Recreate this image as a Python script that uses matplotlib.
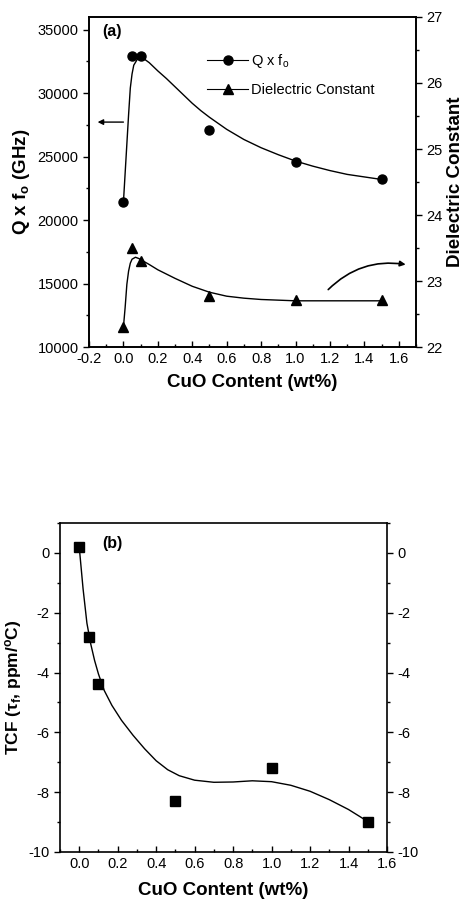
import matplotlib
matplotlib.use('Agg')
import matplotlib.pyplot as plt
from matplotlib.ticker import MultipleLocator, FormatStrFormatter
from matplotlib.lines import Line2D

plt.rcParams['font.family'] = ['Liberation Sans', 'DejaVu Sans']
plt.rcParams['mathtext.default'] = 'regular'
plt.rcParams['axes.unicode_minus'] = False

#%% data
cuo = [0.0, 0.05, 0.1, 0.5, 1.0, 1.5]          # CuO content (wt%)
qf = [21400, 32900, 32900, 27100, 24600, 23200]  # Q x fo (GHz)
eps_r = [22.3, 23.5, 23.3, 22.77, 22.71, 22.71]  # dielectric constant
tcf = [0.2, -2.8, -4.4, -8.3, -7.2, -9.0]        # TCF (ppm/C)

# guide curves drawn through the points
qf_fit_x = [0, 0.01, 0.02, 0.03, 0.04, 0.05, 0.06, 0.08, 0.1, 0.12, 0.15, 0.2, 0.25, 0.3,
            0.35, 0.4, 0.45, 0.5, 0.6, 0.7, 0.8, 0.9, 1.0, 1.1, 1.2, 1.3, 1.4, 1.5]
qf_fit_y = [21400, 23700, 26000, 28300, 30400, 31500, 32200, 32650, 32800, 32700,
            32400, 31750, 31150, 30500, 29850, 29200, 28620, 28100, 27150, 26350,
            25700, 25150, 24650, 24250, 23900, 23600, 23400, 23200]
eps_fit_x = [0, 0.01, 0.02, 0.03, 0.04, 0.05, 0.07, 0.09, 0.11, 0.15, 0.2, 0.3, 0.4,
             0.5, 0.6, 0.7, 0.8, 0.9, 1.0, 1.2, 1.5]
eps_fit_y = [22.3, 22.6, 22.95, 23.15, 23.27, 23.33, 23.36, 23.34, 23.31, 23.25,
             23.17, 23.04, 22.92, 22.83, 22.77, 22.74, 22.72, 22.71, 22.70, 22.70, 22.70]
tcf_fit_x = [0, 0.02, 0.04, 0.06, 0.08, 0.1, 0.13, 0.17, 0.22, 0.28, 0.34, 0.4, 0.46,
             0.52, 0.6, 0.7, 0.8, 0.9, 1.0, 1.1, 1.2, 1.3, 1.4, 1.5]
tcf_fit_y = [0.2, -1.2, -2.35, -3.05, -3.6, -4.05, -4.6, -5.1, -5.6, -6.1, -6.55, -6.95,
             -7.25, -7.45, -7.6, -7.67, -7.66, -7.62, -7.65, -7.77, -7.97, -8.25, -8.58, -8.98]

fig = plt.figure(figsize=(4.65, 8.99), dpi=100)

TICK_FS = 10.5
LAB_FS = 13.5

def style_axis(ax):
    for s in ax.spines.values():
        s.set_linewidth(1.2)
    ax.tick_params(axis='x', which='both', direction='in', top=False, labelsize=TICK_FS, width=1)
    ax.tick_params(axis='y', which='both', direction='out', labelsize=TICK_FS, width=1)
    ax.tick_params(which='major', length=4)
    ax.tick_params(which='minor', length=2.2)

#%% (a)
ax1 = fig.add_axes([0.1914, 0.614, 0.7032, 0.3671])
ax2 = ax1.twinx()

ax1.plot(qf_fit_x, qf_fit_y, color='k', lw=1.0)
ax1.plot(cuo, qf, 'o', color='k', ms=6.5)
ax2.plot(eps_fit_x, eps_fit_y, color='k', lw=1.0)
ax2.plot(cuo, eps_r, '^', color='k', ms=7.5)

ax1.set_xlim(-0.2, 1.7)
ax1.set_ylim(10000, 36000)
ax2.set_ylim(22, 27)
ax1.xaxis.set_major_locator(MultipleLocator(0.2))
ax1.xaxis.set_minor_locator(MultipleLocator(0.1))
ax1.xaxis.set_major_formatter(FormatStrFormatter('%.1f'))
ax1.yaxis.set_major_locator(MultipleLocator(5000))
ax1.yaxis.set_minor_locator(MultipleLocator(2500))
ax1.yaxis.set_major_formatter(FormatStrFormatter('%d'))
ax2.yaxis.set_major_locator(MultipleLocator(1))
ax2.yaxis.set_minor_locator(MultipleLocator(0.5))
style_axis(ax1)
style_axis(ax2)

ax1.set_xlabel('CuO Content (wt%)', fontsize=LAB_FS, fontweight='bold', labelpad=6)
ax1.set_ylabel('Q x f$_o$ (GHz)', fontsize=LAB_FS, fontweight='bold', labelpad=4)
ax2.set_ylabel('Dielectric Constant', fontsize=LAB_FS, fontweight='bold', labelpad=3)

ax1.text(0.04, 0.955, '(a)', transform=ax1.transAxes, fontsize=11.5,
         fontweight='bold', va='center', ha='left')

handles = [Line2D([], [], color='k', lw=0.8, marker='o', ms=6.5),
           Line2D([], [], color='k', lw=0.8, marker='^', ms=7.5)]
ax1.legend(handles, ['Q x f$_o$', 'Dielectric Constant'], loc='upper left',
           bbox_to_anchor=(0.34, 0.915), frameon=False, fontsize=TICK_FS,
           handlelength=2.8, handletextpad=0.2, labelspacing=0.85, borderpad=0)

# arrows pointing to the relevant axis
ax1.annotate('', xy=(-0.15, 27720), xytext=(0.0, 27720),
             arrowprops=dict(arrowstyle='-|>', color='k', lw=1.0, mutation_scale=8,
                             shrinkA=0, shrinkB=0))
ax2.annotate('', xy=(1.64, 23.25), xytext=(1.19, 22.87),
             arrowprops=dict(arrowstyle='-|>', color='k', lw=1.2, mutation_scale=8,
                             shrinkA=0, shrinkB=0, connectionstyle='arc3,rad=-0.25'))

#%% (b)
ax3 = fig.add_axes([0.129, 0.0523, 0.7032, 0.366])
ax3.plot(tcf_fit_x, tcf_fit_y, color='k', lw=1.0)
ax3.plot(cuo, tcf, 's', color='k', ms=7)
ax3.set_xlim(-0.1, 1.6)
ax3.set_ylim(-10, 1)
ax3.xaxis.set_major_locator(MultipleLocator(0.2))
ax3.xaxis.set_minor_locator(MultipleLocator(0.1))
ax3.xaxis.set_major_formatter(FormatStrFormatter('%.1f'))
ax3.yaxis.set_major_locator(MultipleLocator(2))
ax3.yaxis.set_minor_locator(MultipleLocator(1))
ax3.yaxis.set_major_formatter(FormatStrFormatter('%d'))
style_axis(ax3)
ax3.tick_params(axis='y', which='both', right=True, labelright=True)

ax3.set_xlabel('CuO Content (wt%)', fontsize=LAB_FS, fontweight='bold', labelpad=8)
ax3.set_ylabel('TCF (τ$_f$, ppm/$^o$C)', fontsize=12.5, fontweight='bold', labelpad=3)
ax3.text(0.128, 0.939, '(b)', transform=ax3.transAxes, fontsize=11.5,
         fontweight='bold', va='center', ha='left')

fig.savefig('out.png', dpi=100)
